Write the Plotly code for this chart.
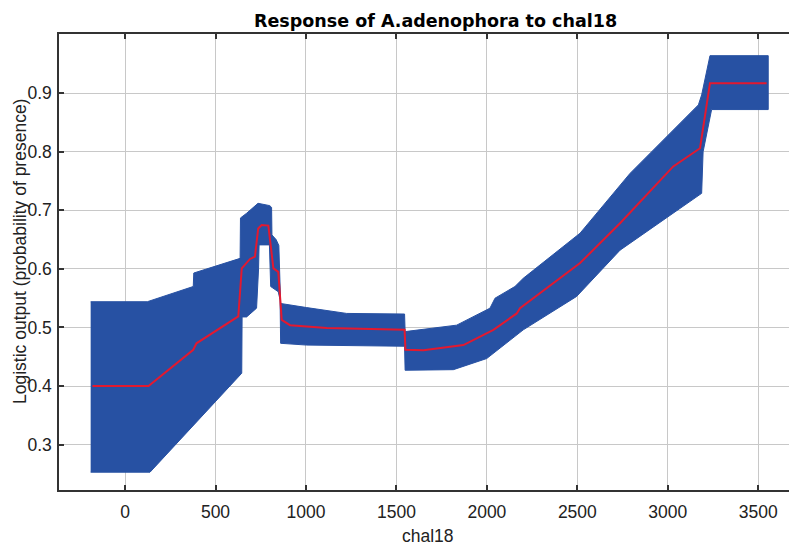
import plotly.graph_objects as go

# ---- data ----
upper_x = [-190, 123, 377, 380, 636, 638, 672, 735, 800, 810, 812, 835, 850, 857, 860, 1004, 1225, 1545, 1548,
           1833, 2017, 2045, 2155, 2201, 2515, 2791, 3030, 3169, 3187, 3233, 3555]
upper_y = [0.544, 0.544, 0.570, 0.593, 0.618, 0.687, 0.695, 0.712, 0.708, 0.705, 0.658, 0.650, 0.640, 0.550, 0.541,
           0.534, 0.524, 0.523, 0.493, 0.504, 0.533, 0.550, 0.570, 0.584, 0.661, 0.763, 0.837, 0.880, 0.897, 0.964, 0.964]

lower_x = [-190, 138, 645, 647, 672, 727, 738, 741, 798, 805, 847, 857, 860, 1004, 1545, 1548,
           1815, 1999, 2201, 2496, 2736, 2975, 3187, 3195, 3242, 3555]
lower_y = [0.253, 0.253, 0.422, 0.518, 0.518, 0.533, 0.600, 0.641, 0.641, 0.570, 0.561, 0.547, 0.473, 0.470, 0.468, 0.427,
           0.428, 0.447, 0.496, 0.553, 0.632, 0.684, 0.729, 0.800, 0.872, 0.872]

mean_x = [-180, 130, 377, 395, 626, 645, 691, 718, 736, 755, 792, 811, 820, 847, 866, 912, 1115, 1545, 1550,
          1649, 1870, 2036, 2165, 2183, 2515, 2736, 3030, 3178, 3233, 3546]
mean_y = [0.400, 0.400, 0.462, 0.473, 0.519, 0.601, 0.617, 0.621, 0.669, 0.675, 0.674, 0.630, 0.601, 0.595, 0.513,
          0.504, 0.499, 0.496, 0.462, 0.461, 0.470, 0.496, 0.524, 0.533, 0.610, 0.678, 0.775, 0.806, 0.917, 0.917]

x_ticks = [0, 500, 1000, 1500, 2000, 2500, 3000, 3500]
y_ticks = [0.3, 0.4, 0.5, 0.6, 0.7, 0.8, 0.9]
y_tick_labels = ["0.3", "0.4", "0.5", "0.6", "0.7", "0.8", "0.9"]

title_text = "Response of A.adenophora to chal18"
x_title = "chal18"
y_title = "Logistic output (probability of presence)"

BLUE = "#2751A3"
RED = "#E3192F"

band_x = upper_x + lower_x[::-1]
band_y = upper_y + lower_y[::-1]

fig = go.Figure()
fig.add_trace(go.Scatter(x=band_x, y=band_y, fill="toself", fillcolor=BLUE,
                         line=dict(color=BLUE, width=1), mode="lines", hoverinfo="skip",
                         showlegend=False))
fig.add_trace(go.Scatter(x=mean_x, y=mean_y, mode="lines",
                         line=dict(color=RED, width=2), showlegend=False))

tick_font = dict(family="Liberation Sans, Arial, sans-serif", size=17.5, color="#222")
axis_common = dict(showline=True, linecolor="#333", linewidth=1.5, mirror="allticks",
                   ticks="inside", ticklen=5, tickcolor="#333", tickwidth=1.5,
                   showgrid=True, gridcolor="#C8C8C8", gridwidth=1, zeroline=False,
                   tickfont=tick_font)

fig.update_xaxes(range=[-365, 3714], tickmode="array", tickvals=x_ticks,
                 ticklabelstandoff=5, **axis_common)
fig.update_yaxes(range=[0.2226, 1.001], tickmode="array", tickvals=y_ticks, ticktext=y_tick_labels,
                 ticklabelstandoff=2, **axis_common)

# page body has an 8px default margin, so the figure is 8px smaller and offset
fig.update_layout(
    width=789, height=538,
    margin=dict(l=51, r=0, t=26, b=56, autoexpand=False),
    plot_bgcolor="white", paper_bgcolor="white",
    showlegend=False,
    annotations=[
        dict(text="<b>" + title_text + "</b>", xref="paper", yref="paper",
             x=(435 - 59) / (797 - 59), y=1.0, yshift=1, xanchor="center", yanchor="bottom",
             showarrow=False, font=dict(family="DejaVu Sans", size=17.5, color="black")),
        dict(text=x_title, xref="paper", yref="paper", x=0.5, y=0, yshift=-34,
             xanchor="center", yanchor="top", showarrow=False, font=tick_font),
        dict(text=y_title, xref="paper", yref="paper", x=0, xshift=-51, y=(490 - 252) / 456,
             xanchor="left", yanchor="middle", textangle=-90, showarrow=False, font=tick_font),
    ],
)

fig.write_html("out.html")
